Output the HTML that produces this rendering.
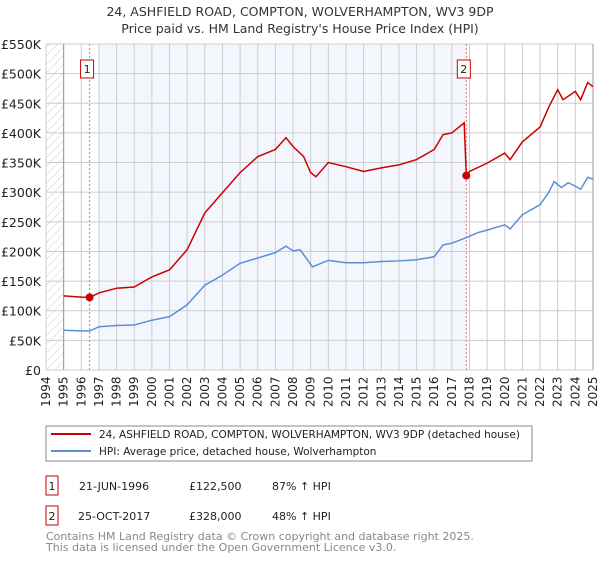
<!DOCTYPE html>
<html><head><meta charset="utf-8"><style>
body{margin:0;background:#fff;font-family:"Liberation Sans","DejaVu Sans",sans-serif;}
svg text{font-family:"DejaVu Sans","Liberation Sans",sans-serif;}
</style></head><body>
<svg id="c" width="600" height="560" xmlns="http://www.w3.org/2000/svg">
<defs><pattern id="h" width="6" height="6" patternUnits="userSpaceOnUse" patternTransform="rotate(45)"><line x1="0" y1="0" x2="0" y2="6" stroke="#ccc" stroke-width="1"/></pattern></defs>
<text x="300" y="16" text-anchor="middle" font-size="12.5" fill="#333">24, ASHFIELD ROAD, COMPTON, WOLVERHAMPTON, WV3 9DP</text>
<text x="300" y="33" text-anchor="middle" font-size="12.5" fill="#333">Price paid vs. HM Land Registry's House Price Index (HPI)</text>
<g id="plot"></g>
<rect x="46" y="426" width="486" height="35" fill="#fff" stroke="#888"/>
<line x1="51" y1="434" x2="91" y2="434" stroke="#cc0000" stroke-width="2"/>
<text x="99" y="438" font-size="10.5" fill="#222">24, ASHFIELD ROAD, COMPTON, WOLVERHAMPTON, WV3 9DP (detached house)</text>
<line x1="51" y1="451" x2="91" y2="451" stroke="#5b8fd4" stroke-width="2"/>
<text x="99" y="455" font-size="10.5" fill="#222">HPI: Average price, detached house, Wolverhampton</text>
<g font-size="11" fill="#222">
<rect x="46" y="476" width="12" height="19" fill="#fff" stroke="#cc0000"/>
<text x="52" y="490" text-anchor="middle">1</text>
<text x="79" y="490">21-JUN-1996</text>
<text x="189" y="490">£122,500</text>
<text x="272" y="490">87% ↑ HPI</text>
<rect x="46" y="506" width="12" height="19" fill="#fff" stroke="#cc0000"/>
<text x="52" y="520" text-anchor="middle">2</text>
<text x="78" y="520">25-OCT-2017</text>
<text x="189" y="520">£328,000</text>
<text x="272" y="520">48% ↑ HPI</text>
</g>
<text x="46" y="540" font-size="11" fill="#888">Contains HM Land Registry data © Crown copyright and database right 2025.</text>
<text x="46" y="551" font-size="11" fill="#888">This data is licensed under the Open Government Licence v3.0.</text>
</svg>
<script>
const yTicks=[0,50000,100000,150000,200000,250000,300000,350000,400000,450000,500000,550000];
const yTickLabels=["£0","£50K","£100K","£150K","£200K","£250K","£300K","£350K","£400K","£450K","£500K","£550K"];
const years=[1994,1995,1996,1997,1998,1999,2000,2001,2002,2003,2004,2005,2006,2007,2008,2009,2010,2011,2012,2013,2014,2015,2016,2017,2018,2019,2020,2021,2022,2023,2024,2025];
const hpiDates=[1995,1996,1996.5,1997,1998,1999,2000,2001,2002,2003,2004,2005,2006,2007,2007.6,2008,2008.4,2009.1,2010,2011,2012,2013,2014,2015,2016,2016.5,2017,2017.8,2018.5,2019,2020,2020.3,2021,2022,2022.5,2022.8,2023.2,2023.6,2024,2024.3,2024.7,2025];
const hpiValues=[67000,66000,66000,73000,75000,76000,84000,90000,110000,143000,160000,180000,189000,198000,209000,201000,203000,174000,185000,181000,181000,183000,184000,186000,191000,211000,214000,223000,232000,236000,245000,238000,262000,279000,300000,318000,308000,316000,310000,305000,325000,322000];
const propDates=[1995,1996,1996.47,1997,1998,1999,2000,2001,2002,2003,2004,2005,2006,2007,2007.6,2008,2008.6,2009,2009.3,2010,2011,2012,2013,2014,2015,2016,2016.5,2017,2017.7,2017.82,2018,2019,2020,2020.3,2021,2022,2022.5,2023,2023.3,2024,2024.3,2024.7,2025];
const propValues=[125000,123000,122500,130000,138000,140000,157000,169000,203000,265000,299000,333000,360000,372000,392000,377000,360000,333000,326000,350000,343000,335000,341000,346000,355000,372000,397000,400000,417000,328000,335000,349000,366000,355000,385000,410000,444000,473000,456000,470000,456000,485000,478000];
const sales=[{n:"1",t:1996.47,v:122500},{n:"2",t:2017.82,v:328000}];
const X0=46,X1=593,Y0=370,Y1=44;
function xs(t){return X0+(t-1994)/31*(X1-X0);}
function ys(v){return Y0-(v/550000)*(Y0-Y1);}
const NS="http://www.w3.org/2000/svg";
const g=document.getElementById('plot');
function mk(tag,attrs){const e=document.createElementNS(NS,tag);for(const k in attrs)e.setAttribute(k,attrs[k]);g.appendChild(e);return e;}
let e;
e=mk('rect',{x:xs(1997),y:Y1,width:xs(2017.82)-xs(1997),height:Y0-Y1,fill:'#eef3fc',opacity:0.7});


e=mk('rect',{x:X0,y:Y1,width:xs(1995)-X0,height:Y0-Y1,fill:'url(#h)'});


years.forEach((yr,i)=>{
 e=mk('line',{x1:xs(yr),x2:xs(yr),y1:Y1,y2:Y0,stroke:'#ccc','stroke-width':1});
 
 
 e=mk('text',{transform:`translate(${xs(yr)+4},${Y0+37}) rotate(-90)`,'font-size':12,fill:'#222'});
 e.textContent=yr;
 
 
});
yTicks.forEach((v,i)=>{
 e=mk('line',{x1:X0,x2:X1,y1:ys(v),y2:ys(v),stroke:'#ccc','stroke-width':1});
 
 
 e=mk('text',{x:41,y:ys(v)+5,'text-anchor':'end','font-size':12.5,fill:'#222'});
 e.textContent=yTickLabels[i];
 
 
});
e=mk('line',{x1:xs(1995),x2:xs(1995),y1:Y1,y2:Y0,stroke:'#999','stroke-width':1});


e=mk('line',{x1:X1,x2:X1,y1:Y1,y2:Y0,stroke:'#999','stroke-width':1});


sales.forEach(s=>{
 e=mk('line',{x1:xs(s.t),x2:xs(s.t),y1:Y1,y2:Y0,stroke:'#f07070','stroke-width':1,'stroke-dasharray':'2,2'});
 
 
 e=mk('rect',{x:xs(s.t)-9,y:60,width:13,height:18,fill:'#fff',stroke:'#cc0000'});
 
 
 e=mk('text',{x:xs(s.t)-2.5,y:73,'text-anchor':'middle','font-size':11,fill:'#222'});
 e.textContent=s.n;
 
 
});
e=mk('polyline',{points:hpiDates.map((t,i)=>xs(t)+','+ys(hpiValues[i])).join(' '),fill:'none',stroke:'#5b8fd4','stroke-width':1.5});


e=mk('polyline',{points:propDates.map((t,i)=>xs(t)+','+ys(propValues[i])).join(' '),fill:'none',stroke:'#cc0000','stroke-width':1.5});


sales.forEach(s=>{
 e=mk('circle',{cx:xs(s.t),cy:ys(s.v),r:4,fill:'#cc0000'});
 
 
});
</script>
</body></html>
